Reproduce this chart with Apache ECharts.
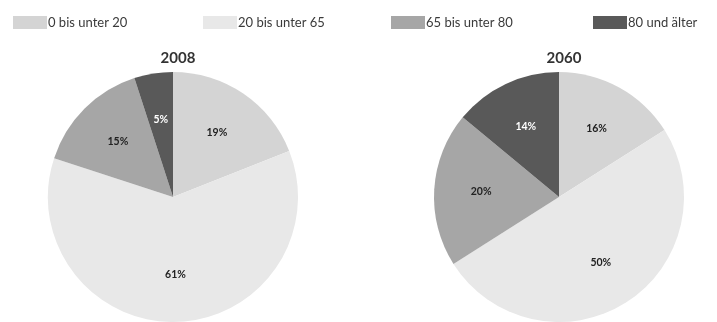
<!DOCTYPE html>
<html><head><meta charset="utf-8">
<script src="https://cdn.jsdelivr.net/npm/echarts@6/dist/echarts.min.js"></script>
<style>html,body{margin:0;padding:0;background:#fff}#c{width:717px;height:322px}</style>
</head><body><div id="c"></div>
<script>
const categories = ['0 bis unter 20', '20 bis unter 65', '65 bis unter 80', '80 und älter'];
const years = ['2008', '2060'];
const values2008 = [19, 61, 15, 5];
const values2060 = [16, 50, 20, 14];
const colors = ['#d4d4d4', '#e8e8e8', '#a6a6a6', '#595959'];
const labelColors = ['#222', '#222', '#222', '#fff'];

const FONT = 'Lato, "Open Sans", sans-serif';
const centers = [[173, 197], [559, 197]];
const R = 125;

function slices(vals) {
  return categories.map((n, i) => ({ name: n, value: vals[i], itemStyle: { color: colors[i] } }));
}
function labelSlices(vals) {
  return categories.map((n, i) => ({ name: n + ' ', value: vals[i],
    itemStyle: { color: 'rgba(0,0,0,0)' },
    label: { color: labelColors[i] } }));
}

const series = [];
[values2008, values2060].forEach((vals, k) => {
  series.push({
    type: 'pie', center: centers[k], radius: [0, R], startAngle: 90, clockwise: true,
    silent: true, label: { show: false }, labelLine: { show: false },
    emphasis: { disabled: true }, data: slices(vals)
  });
  series.push({
    type: 'pie', center: centers[k], radius: [0, 150], startAngle: 90, clockwise: true,
    silent: true, emphasis: { disabled: true }, z: 5,
    label: { show: true, position: 'inside', formatter: '{c}%', fontFamily: FONT, fontSize: 10.5, fontWeight: 'bold' },
    labelLine: { show: false }, data: labelSlices(vals)
  });
});

const legendLefts = [8, 198, 386, 588];
const legends = categories.map((n, i) => ({
  show: true, data: [n], left: legendLefts[i], top: 11, orient: 'horizontal',
  itemWidth: 34, itemHeight: 13, icon: 'rect', selectedMode: false,
  textStyle: { fontFamily: FONT, fontSize: 13, color: '#3a3a3a', padding: [0, 0, 0, -4] }
}));

const titles = years.map((y, k) => ({
  text: y, left: centers[k][0], top: 46, textAlign: 'center',
  textStyle: { fontFamily: FONT, fontSize: 15, fontWeight: 'bold', color: '#333' }
}));

const chart = echarts.init(document.getElementById('c'));
chart.setOption({
  animation: false,
  title: titles,
  legend: legends,
  series: series
});
</script></body></html>
